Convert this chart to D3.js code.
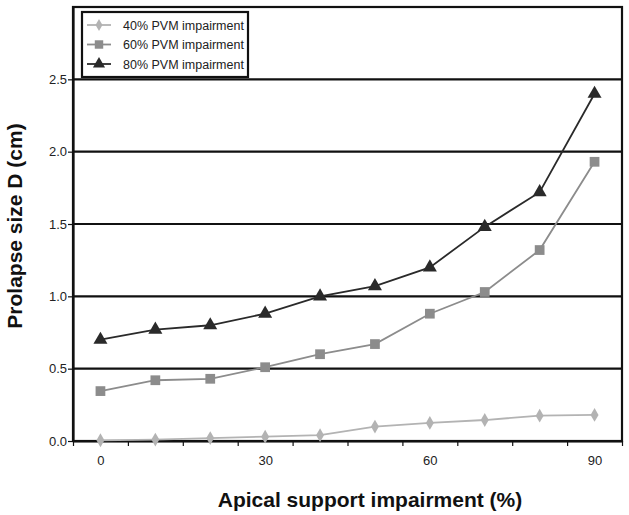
<!DOCTYPE html>
<html>
<head>
<meta charset="utf-8">
<script src="https://cdn.jsdelivr.net/npm/d3@7"></script>
<style>
  body { margin: 0; background: #fff; }
  text { font-family: "Liberation Sans", Arial, sans-serif; }
</style>
</head>
<body>
<div id="chart-area"></div>
<script>
// data
const apical = [0, 10, 20, 30, 40, 50, 60, 70, 80, 90]
const pvm40 = [0.005, 0.01, 0.02, 0.03, 0.04, 0.10, 0.125, 0.145, 0.175, 0.18]
const pvm60 = [0.345, 0.42, 0.43, 0.51, 0.60, 0.67, 0.88, 1.03, 1.32, 1.93]
const pvm80 = [0.70, 0.77, 0.80, 0.88, 1.00, 1.07, 1.20, 1.48, 1.72, 2.40]
const seriesNames = ["40% PVM impairment", "60% PVM impairment", "80% PVM impairment"]
const yTicks = [0, 0.5, 1.0, 1.5, 2.0, 2.5]
const xLabels = [0, 30, 60, 90]

const W = 629, H = 515
const MARGIN = { LEFT: 73, RIGHT: 7, TOP: 7, BOTTOM: 74 }
const WIDTH = W - MARGIN.LEFT - MARGIN.RIGHT
const HEIGHT = H - MARGIN.TOP - MARGIN.BOTTOM

const svg = d3.select("#chart-area").append("svg")
  .attr("width", W)
  .attr("height", H)

const g = svg.append("g")
  .attr("transform", `translate(${MARGIN.LEFT}, ${MARGIN.TOP})`)

// category-style axis: each value sits in the middle of a 10-wide slot
const x = d3.scaleLinear().domain([-5, 95]).range([0, WIDTH])
const y = d3.scaleLinear().domain([0, 3]).range([HEIGHT, 0])

// horizontal grid lines
g.selectAll(".grid").data(yTicks.slice(1)).enter().append("line")
  .attr("class", "grid")
  .attr("x1", 0).attr("x2", WIDTH)
  .attr("y1", d => y(d)).attr("y2", d => y(d))
  .attr("stroke", "#111").attr("stroke-width", 2.2)

// plot frame (top and right)
g.append("rect")
  .attr("x", 0).attr("y", 0)
  .attr("width", WIDTH).attr("height", HEIGHT)
  .attr("fill", "none").attr("stroke", "#111").attr("stroke-width", 2.2)

// y axis
const yAxisGroup = g.append("g").attr("class", "y axis")
  .call(d3.axisLeft(y).tickValues(yTicks).tickSize(5).tickSizeOuter(0).tickFormat(d3.format(".1f")))
yAxisGroup.select(".domain").attr("stroke", "#111").attr("stroke-width", 2.2)
yAxisGroup.selectAll(".tick line").attr("stroke", "#111").attr("stroke-width", 1.2)
yAxisGroup.selectAll("text")
  .attr("font-size", "13px").attr("fill", "#222")
  .attr("font-family", "Liberation Sans, Arial, sans-serif")
  .attr("x", -6)

// x axis: tick marks between categories
const xTickVals = d3.range(-5, 96, 10)
const xAxisGroup = g.append("g").attr("class", "x axis")
  .attr("transform", `translate(0,${HEIGHT})`)
  .call(d3.axisBottom(x).tickValues(xTickVals).tickSize(5).tickSizeOuter(0).tickFormat(""))
xAxisGroup.select(".domain").attr("stroke", "#111").attr("stroke-width", 2.2)
xAxisGroup.selectAll(".tick line").attr("stroke", "#111").attr("stroke-width", 1.2)

const xLabelGroup = g.append("g")
  .attr("transform", `translate(0,${HEIGHT})`)
  .call(d3.axisBottom(x).tickValues(xLabels).tickSize(0).tickPadding(15))
xLabelGroup.select(".domain").remove()
xLabelGroup.selectAll("text")
  .attr("font-size", "13px").attr("fill", "#222")
  .attr("font-family", "Liberation Sans, Arial, sans-serif")

// axis titles
g.append("text")
  .attr("x", 297).attr("y", HEIGHT + 66)
  .attr("text-anchor", "middle")
  .attr("font-size", "21px").attr("font-weight", "bold").attr("fill", "#111")
  .text("Apical support impairment (%)")

g.append("text")
  .attr("transform", `translate(-51, ${226 - MARGIN.TOP}) rotate(-90)`)
  .attr("text-anchor", "middle")
  .attr("font-size", "21px").attr("font-weight", "bold").attr("fill", "#111")
  .text("Prolapse size D (cm)")

// series
const series = [
  { name: seriesNames[0], values: pvm40, color: "#b3b3b3", symbol: d3.symbolDiamond, size: 55 },
  { name: seriesNames[1], values: pvm60, color: "#8c8c8c", symbol: d3.symbolSquare, size: 95 },
  { name: seriesNames[2], values: pvm80, color: "#2a2a2a", symbol: d3.symbolTriangle, size: 85 }
]

const line = d3.line()
  .x((d, i) => x(apical[i]))
  .y(d => y(d))

series.forEach(s => {
  g.append("path")
    .datum(s.values)
    .attr("fill", "none")
    .attr("stroke", s.color)
    .attr("stroke-width", 1.8)
    .attr("d", line)

  g.selectAll(null).data(s.values).enter().append("path")
    .attr("d", d3.symbol().type(s.symbol).size(s.size))
    .attr("transform", (d, i) => `translate(${x(apical[i])},${y(d)})`)
    .attr("fill", s.color)
})

// legend
const legend = svg.append("g").attr("transform", "translate(82, 12)")
legend.append("rect")
  .attr("width", 166).attr("height", 65)
  .attr("fill", "#fff").attr("stroke", "#111").attr("stroke-width", 2.2)

series.forEach((s, i) => {
  const row = legend.append("g").attr("transform", `translate(0, ${13 + i * 19.5})`)
  row.append("line")
    .attr("x1", 5).attr("x2", 29)
    .attr("stroke", s.color).attr("stroke-width", 1.8)
  row.append("path")
    .attr("d", d3.symbol().type(s.symbol).size(s.size * 0.75))
    .attr("transform", "translate(17,0)")
    .attr("fill", s.color)
  row.append("text")
    .attr("x", 41).attr("y", 4.5)
    .attr("font-size", "12.5px").attr("fill", "#222")
    .text(s.name)
})
</script>
</body>
</html>
